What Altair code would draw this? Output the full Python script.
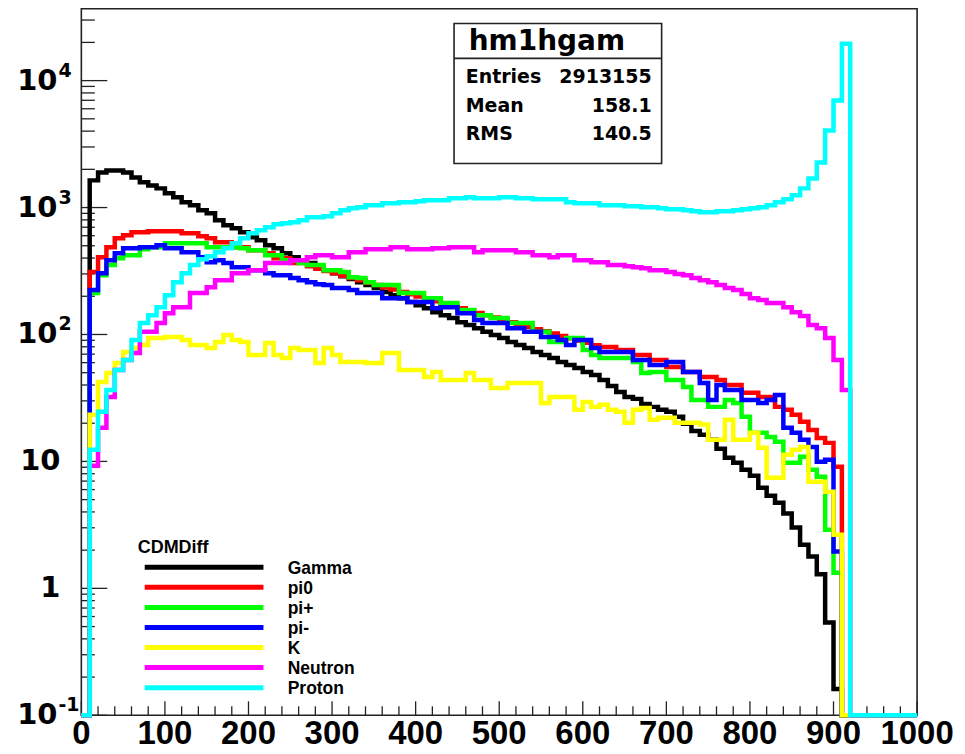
import altair as alt
import pandas as pd

# ---------------- data (bin contents, 10-unit bins starting at 0) ----------------
series_names = ["Gamma", "pi0", "pi+", "pi-", "K", "Neutron", "Proton"]
series_colors = ["#000000", "#ff0000", "#00ff00", "#0000ff", "#ffff00", "#ff00ff", "#00ffff"]
n_bins = 100
bin_width = 10
x_max = 1000

gamma = [0, 1637, 1890, 1960, 1960, 1890, 1727, 1579, 1495, 1416, 1294, 1203, 1100, 1041, 951, 901,
         793, 724, 686, 638, 583, 552, 504, 478, 437, 406, 385, 365, 345, 321, 304, 288, 273, 258,
         245, 232, 216, 204, 193, 180, 170, 161, 150, 142, 135, 125, 119, 112, 105, 99, 93.8, 87.2,
         82.6, 78.2, 72.8, 69.0, 65.3, 60.8, 57.6, 54.5, 50.6, 48.0, 43.8, 39.3, 35.3, 32.2, 31.1,
         28.4, 26.9, 25.5, 24.6, 22.5, 19.8, 17.4, 16.2, 14.8, 12.6, 10.7, 9.76, 8.6, 7.72, 6.20,
         5.36, 4.73, 3.88, 3.01, 2.21, 1.78, 1.29, 0.538, 0.161]
pi0 = [0, 310, 406, 486, 573, 605, 638, 638, 650, 650, 650, 650, 627, 627, 594, 573, 532, 532, 486,
       486, 461, 461, 437, 399, 399, 365, 365, 344, 329, 316, 303, 290, 279, 267, 256, 245, 235, 226,
       216, 207, 199, 191, 183, 175, 168, 161, 155, 148, 142, 136, 131, 125, 120, 115, 110, 106, 102,
       97.5, 93.4, 89.6, 85.9, 82.4, 79.6, 79.6, 75.5, 75.5, 69.0, 69.0, 63.0, 63.0, 55.5, 55.5, 50.6,
       50.6, 46.3, 46.3, 43.8, 40.0, 40.0, 34.7, 34.7, 32.2, 32.2, 26.9, 25.5, 23.3, 20.5, 17.7, 15.3,
       14.0, 9.07]
piplus = [0, 212, 293, 352, 399, 421, 421, 469, 486, 486, 523, 523, 523, 523, 523, 486, 486, 486, 486,
          478, 461, 461, 421, 421, 385, 385, 365, 352, 352, 321, 321, 310, 283, 278, 258, 245, 245, 245,
          212, 212, 212, 193, 193, 177, 177, 156, 156, 142, 142, 135, 135, 123, 123, 123, 105, 105, 87.2,
          87.2, 93.8, 93.8, 75.5, 69.0, 65.3, 65.3, 65.3, 65.3, 60.8, 49.7, 50.6, 50.6, 43.8, 43.8, 38.6,
          30.5, 30.5, 26.9, 26.9, 30.5, 28.9, 22.5, 16.8, 16.8, 15.6, 14.3, 9.76, 9.76, 10.9, 8.6, 7.58,
          2.90, 1.33]
piminus = [0, 224, 304, 385, 437, 478, 478, 486, 486, 504, 478, 478, 445, 445, 406, 371, 385, 365, 339,
           339, 321, 321, 304, 293, 293, 278, 268, 258, 249, 245, 232, 232, 224, 212, 212, 212, 193, 193,
           193, 180, 180, 180, 161, 164, 164, 147, 147, 130, 123, 123, 123, 112, 112, 105, 105, 95.5, 95.5,
           90.4, 82.6, 90.4, 90.4, 78.2, 72.8, 72.8, 72.8, 72.8, 63.0, 63.0, 57.6, 57.6, 60.8, 60.8, 50.6,
           50.6, 41.5, 30.5, 40.0, 36.6, 36.6, 30.5, 30.5, 28.9, 30.5, 33.4, 18.4, 16.8, 14.8, 13.0, 9.93,
           10.3, 1.95]
kaon = [0, 23.3, 42.2, 49.7, 59.7, 72.8, 78.2, 82.6, 93.8, 93.8, 95.5, 95.5, 90.4, 82.6, 82.6, 78.2,
        87.2, 99.0, 90.4, 87.2, 69.0, 69.0, 85.6, 69.0, 65.3, 78.2, 75.5, 75.5, 59.7, 78.2, 69.0, 60.8,
        60.8, 60.8, 59.7, 59.7, 71.5, 71.5, 52.5, 52.5, 52.5, 46.3, 50.6, 43.8, 43.8, 43.8, 49.7, 43.8,
        43.8, 37.9, 37.9, 41.5, 41.5, 41.5, 41.5, 28.9, 32.2, 32.2, 32.2, 25.5, 29.4, 26.9, 27.9, 25.5,
        24.6, 20.2, 25.5, 26.4, 21.3, 22.1, 22.1, 20.2, 20.2, 20.2, 19.5, 14.8, 14.8, 21.3, 14.8, 14.8,
        16.8, 12.8, 7.44, 7.44, 11.3, 12.35, 13.0, 6.92, 6.92, 5.77, 2.65]
neutron = [0, 9.24, 18.4, 32.2, 52.5, 63.0, 71.5, 105, 105, 123, 147, 164, 164, 212, 212, 236, 268, 268,
           304, 304, 321, 321, 365, 365, 365, 385, 385, 406, 421, 421, 406, 406, 445, 445, 469, 469, 469,
           486, 486, 469, 469, 469, 478, 478, 486, 486, 486, 445, 461, 461, 461, 461, 445, 445, 421, 421,
           406, 421, 421, 385, 385, 371, 371, 352, 352, 345, 339, 333, 321, 321, 310, 299, 293, 278, 268,
           258, 245, 232, 224, 208, 193, 187, 177, 177, 164, 150, 140, 119, 112, 93.8, 63.0, 36.6]
proton = [0, 12.35, 24.6, 36.6, 52.5, 63.0, 90.4, 123, 142, 164, 204, 258, 304, 352, 392, 414, 445, 478,
          523, 573, 627, 662, 699, 738, 751, 765, 793, 838, 838, 853, 901, 951, 986, 1004, 1041, 1041,
          1080, 1080, 1100, 1100, 1120, 1140, 1140, 1140, 1182, 1182, 1203, 1182, 1182, 1182, 1203, 1203,
          1182, 1182, 1161, 1161, 1161, 1161, 1100, 1080, 1080, 1080, 1041, 1041, 1041, 1023, 1023, 1004,
          1004, 986, 969, 969, 951, 934, 917, 917, 934, 934, 951, 969, 986, 1004, 1041, 1100, 1161, 1248,
          1416, 1696, 2265, 4044, 6960, 19540]

stats_title = "hm1hgam"
stats_labels = ["Entries", "Mean", "RMS"]
stats_values = ["2913155", "158.1", "140.5"]
legend_title = "CDMDiff"

x_label_values = list(range(0, 1001, 100))
y_major = [0.1, 1, 10, 100, 1000, 10000]
y_base_text = ["10", "1", "10", "10", "10", "10"]
y_sup_text = ["-1", "", "", "2", "3", "4"]

# ---------------- build table ----------------
all_series = [gamma, pi0, piplus, piminus, kaon, neutron, proton]
rows = []
for name, vals in zip(series_names, all_series):
    full = list(vals) + [0] * (n_bins - len(vals))
    for k, v in enumerate(full):
        rows.append({"series": name, "x": k * bin_width, "v": v})
    rows.append({"series": name, "x": x_max, "v": full[-1]})
df = pd.DataFrame(rows)

W, H = 837.5, 708
Y_TOP = 36800
xscale = alt.Scale(domain=[0, x_max], nice=False, zero=False)
yscale = alt.Scale(type="log", domain=[0.1, Y_TOP], nice=False)
FRAME = "#222222"

layers = []

# ticks (drawn inside the frame like ROOT)
y_minor = [m * 10 ** e for e in range(-1, 5) for m in range(2, 10) if m * 10 ** e < Y_TOP]
layers.append(alt.Chart(pd.DataFrame({"t": y_major})).mark_rule(color=FRAME, strokeWidth=1.3).encode(
    y=alt.Y("t:Q", scale=yscale, axis=None), x=alt.value(0), x2=alt.value(26)))
layers.append(alt.Chart(pd.DataFrame({"t": y_minor})).mark_rule(color=FRAME, strokeWidth=1.3).encode(
    y=alt.Y("t:Q", scale=yscale, axis=None), x=alt.value(0), x2=alt.value(13.5)))
x_minor = [t for t in range(20, 1000, 20) if t % 100 != 0]
layers.append(alt.Chart(pd.DataFrame({"t": x_label_values})).mark_rule(color=FRAME, strokeWidth=1.3).encode(
    x=alt.X("t:Q", scale=xscale, axis=None), y=alt.value(H), y2=alt.value(H - 14)))
layers.append(alt.Chart(pd.DataFrame({"t": x_minor})).mark_rule(color=FRAME, strokeWidth=1.3).encode(
    x=alt.X("t:Q", scale=xscale, axis=None), y=alt.value(H), y2=alt.value(H - 9)))

# histogram lines
for name, col in zip(series_names, series_colors):
    layers.append(
        alt.Chart(df)
        .transform_filter(alt.datum.series == name)
        .transform_calculate(vp="max(datum.v, 0.1)")
        .mark_line(interpolate="step-after", color=col, strokeWidth=4.5, strokeJoin="miter")
        .encode(x=alt.X("x:Q", scale=xscale, axis=None),
                y=alt.Y("vp:Q", scale=yscale, axis=None),
                order=alt.Order("x:Q"))
    )

# axis labels
xl = pd.DataFrame({"t": x_label_values, "lab": [str(v) for v in x_label_values]})
layers.append(alt.Chart(xl).mark_text(font="Liberation Sans", fontWeight="bold", fontSize=33,
                                      align="center", baseline="alphabetic", color="black").encode(
    x=alt.X("t:Q", scale=xscale, axis=None), y=alt.value(H + 29), text="lab:N"))

yl = pd.DataFrame({"t": y_major, "base": y_base_text, "sup": y_sup_text,
                   "has": [s != "" for s in y_sup_text]})
layers.append(alt.Chart(yl).transform_filter("datum.has").mark_text(
    font="DejaVu Sans", fontWeight="bold", fontSize=29, align="right", baseline="middle", color="black").encode(
    y=alt.Y("t:Q", scale=yscale, axis=None), x=alt.value(-24), text="base:N"))
layers.append(alt.Chart(yl).transform_filter("!datum.has").mark_text(
    font="DejaVu Sans", fontWeight="bold", fontSize=29, align="right", baseline="middle", color="black").encode(
    y=alt.Y("t:Q", scale=yscale, axis=None), x=alt.value(-21), text="base:N"))
layers.append(alt.Chart(yl).transform_filter("datum.has").mark_text(
    font="DejaVu Sans", fontWeight="bold", fontSize=19, align="left", baseline="alphabetic", dy=-4,
    color="black").encode(
    y=alt.Y("t:Q", scale=yscale, axis=None), x=alt.value(-23), text="sup:N"))

# legend (ROOT TLegend style, no border)
leg = pd.DataFrame({"name": series_names, "color": series_colors, "i": list(range(len(series_names)))})
layers.append(alt.Chart(leg.head(1)).mark_text(
    text=legend_title, font="Liberation Sans", fontWeight="bold", fontSize=18, align="left",
    baseline="alphabetic", color="black").encode(x=alt.value(56.5), y=alt.value(545)))
for i, (name, col) in enumerate(zip(series_names, series_colors)):
    yy = 559.7 + 20.1 * i
    sub = leg.iloc[[i]]
    layers.append(alt.Chart(sub).mark_rule(color=col, strokeWidth=5).encode(
        x=alt.value(63.5), x2=alt.value(182.5), y=alt.value(yy)))
    layers.append(alt.Chart(sub).mark_text(font="Liberation Sans", fontWeight="bold", fontSize=17.5,
                                           align="left", baseline="alphabetic", color="black").encode(
        x=alt.value(206.8), y=alt.value(yy + 6.3), text="name:N"))

# statistics box
st = pd.DataFrame({"lab": stats_labels, "val": stats_values, "i": [0, 1, 2]})
layers.append(alt.Chart(st.head(1)).mark_rect(fill="white", stroke=FRAME, strokeWidth=1.6).encode(
    x=alt.value(373.5), x2=alt.value(581.5), y=alt.value(14.7), y2=alt.value(155)))
layers.append(alt.Chart(st.head(1)).mark_rule(color=FRAME, strokeWidth=1.6).encode(
    x=alt.value(373.5), x2=alt.value(581.5), y=alt.value(49.7)))
layers.append(alt.Chart(st.head(1)).mark_text(
    text=stats_title, font="DejaVu Sans", fontWeight="bold", fontSize=28, align="center",
    baseline="alphabetic", color="black").encode(x=alt.value(466.5), y=alt.value(41.3)))
row_y = [74.7, 103, 131]
for i in range(3):
    sub = st.iloc[[i]]
    layers.append(alt.Chart(sub).mark_text(font="DejaVu Sans", fontWeight="bold", fontSize=19,
                                           align="left", baseline="alphabetic", color="black").encode(
        x=alt.value(385.2), y=alt.value(row_y[i]), text="lab:N"))
    layers.append(alt.Chart(sub).mark_text(font="DejaVu Sans", fontWeight="bold", fontSize=19,
                                           align="right", baseline="alphabetic", color="black").encode(
        x=alt.value(571.5), y=alt.value(row_y[i]), text="val:N"))

chart = alt.layer(*layers).properties(
    width=W, height=H,
    padding={"left": 73.5, "top": 0, "right": 40, "bottom": 38},
    autosize=alt.AutoSizeParams(type="none"),
    background="white",
).configure_view(stroke=FRAME, strokeWidth=1.6)

chart.save("out.html", embed_options={"renderer": "svg", "actions": False})
